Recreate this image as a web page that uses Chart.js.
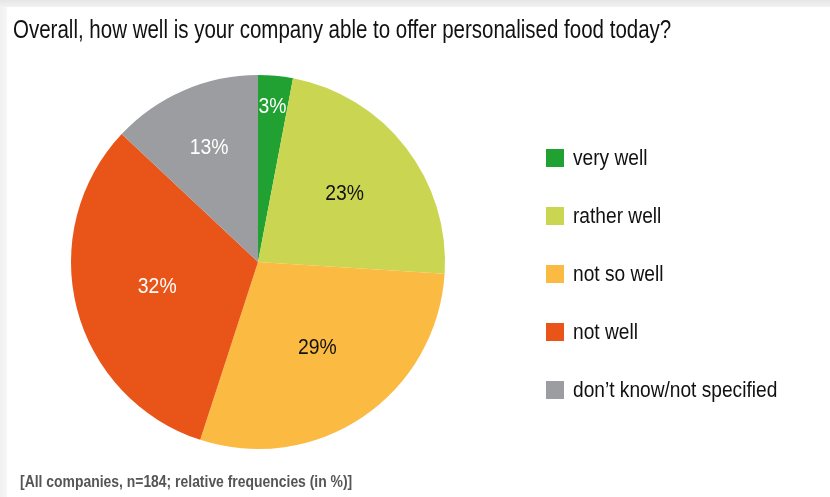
<!DOCTYPE html>
<html>
<head>
<meta charset="utf-8">
<script src="https://cdn.jsdelivr.net/npm/chart.js@4.4.0/dist/chart.umd.min.js"></script>
<style>
  html, body { margin: 0; padding: 0; background: #fff; }
  #wrap { width: 830px; height: 497px; }
</style>
</head>
<body>
<div id="wrap"><canvas id="chart" width="830" height="497"></canvas></div>
<script>
const titleText = 'Overall, how well is your company able to offer personalised food today?';
const footnoteText = '[All companies, n=184; relative frequencies (in %)]';
const categories = ['very well', 'rather well', 'not so well', 'not well', 'don\u2019t know/not specified'];
const shares = [3, 23, 29, 32, 13];
const sliceColors = ['#21a131', '#cad651', '#fbbb42', '#e95418', '#9c9da0'];
const labelColors = ['#ffffff', '#111111', '#111111', '#ffffff', '#ffffff'];

const FONT = '"Liberation Sans", Arial, Helvetica, sans-serif';

// the original typeface is a narrow Helvetica, so squeeze text horizontally
function drawText(ctx, text, x, y, opts) {
  ctx.save();
  ctx.font = opts.font;
  ctx.fillStyle = opts.color;
  ctx.textAlign = opts.align || 'left';
  ctx.textBaseline = opts.baseline || 'alphabetic';
  ctx.translate(x, y);
  ctx.scale(opts.squeeze || 1, 1);
  ctx.fillText(text, 0, 0);
  ctx.restore();
}

const decor = {
  id: 'decor',
  beforeDraw(chart) {
    const ctx = chart.ctx;
    ctx.save();
    ctx.fillStyle = '#ffffff';
    ctx.fillRect(0, 0, chart.width, chart.height);
    // panel shadow along top and left edges
    let g = ctx.createLinearGradient(0, 0, 0, 7);
    g.addColorStop(0, '#e6e6e6');
    g.addColorStop(1, '#f1f1f1');
    ctx.fillStyle = g;
    ctx.fillRect(0, 0, chart.width, 7);
    g = ctx.createLinearGradient(0, 0, 7, 0);
    g.addColorStop(0, '#f0f0f0');
    g.addColorStop(1, '#f7f7f7');
    ctx.fillStyle = g;
    ctx.fillRect(0, 7, 7, chart.height - 7);
    ctx.restore();
  },
  afterDatasetsDraw(chart) {
    const ctx = chart.ctx;
    const arcs = chart.getDatasetMeta(0).data;
    arcs.forEach((arc, i) => {
      const mid = (arc.startAngle + arc.endAngle) / 2;
      const v = shares[i];
      // thin slices get their label nearer the rim
      const frac = 0.53 + 0.38 * Math.exp(-v / 12);
      const r = arc.outerRadius * frac;
      drawText(ctx, v + '%', arc.x + Math.cos(mid) * r, arc.y + Math.sin(mid) * r - 1, {
        font: '22px ' + FONT, color: labelColors[i], align: 'center', baseline: 'middle', squeeze: 0.88
      });
    });
  },
  afterDraw(chart) {
    const ctx = chart.ctx;
    drawText(ctx, titleText, 13, 38, { font: '25px ' + FONT, color: '#111', squeeze: 0.82 });

    categories.forEach((name, i) => {
      const y = 149 + i * 58;
      ctx.fillStyle = sliceColors[i];
      ctx.fillRect(546, y, 18, 18);
      drawText(ctx, name, 573, y + 16, { font: '22px ' + FONT, color: '#111', squeeze: 0.87 });
    });

    drawText(ctx, footnoteText, 20, 487, { font: 'bold 16px ' + FONT, color: '#555', squeeze: 0.87 });
  }
};

new Chart(document.getElementById('chart'), {
  type: 'pie',
  data: {
    labels: categories,
    datasets: [{
      data: shares,
      backgroundColor: sliceColors,
      borderWidth: 0,
      hoverOffset: 0,
      offset: 0
    }]
  },
  options: {
    responsive: false,
    animation: false,
    events: [],
    layout: { padding: { top: 75, bottom: 48, left: 71, right: 385 } },
    plugins: {
      legend: { display: false },
      tooltip: { enabled: false },
      title: { display: false }
    }
  },
  plugins: [decor]
});
</script>
</body>
</html>
